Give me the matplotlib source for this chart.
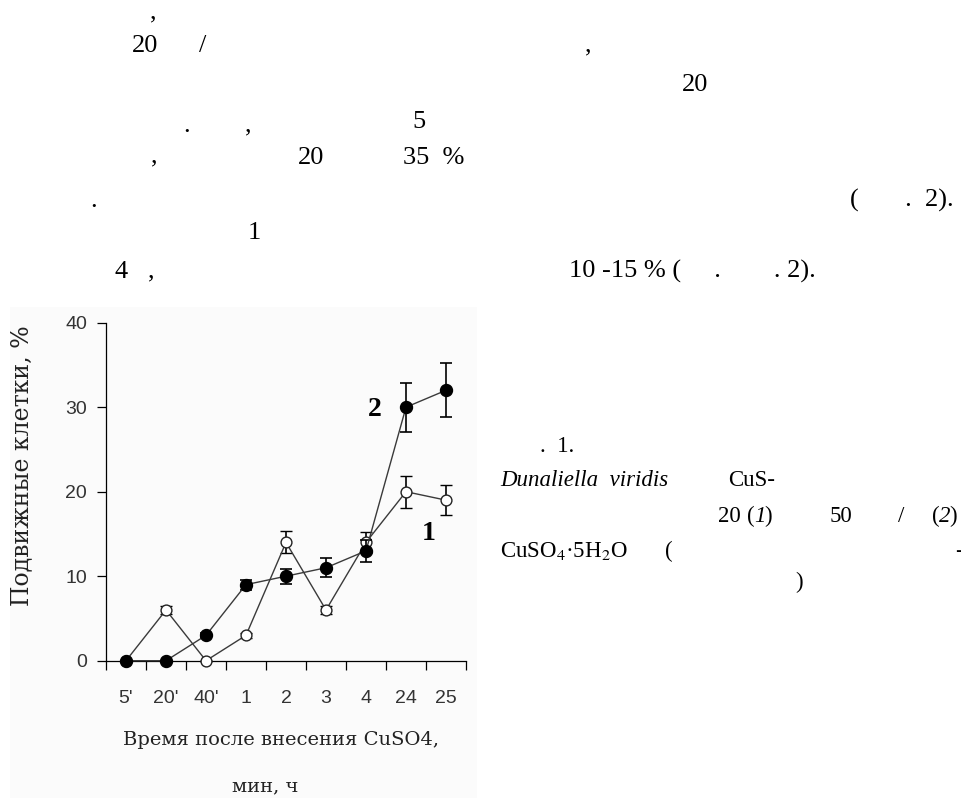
import matplotlib
matplotlib.use("Agg")
import matplotlib.pyplot as plt
from matplotlib.patches import Rectangle

# ---- data ----
time_labels = ["5'", "20'", "40'", "1", "2", "3", "4", "24", "25"]
series1 = [0, 6, 0, 3, 14, 6, 14, 20, 19]          # 20 (1), open circles
series1_err = [0, 0.5, 0, 0.3, 1.3, 0.5, 1.2, 1.9, 1.8]
series2 = [0, 0, 3, 9, 10, 11, 13, 30, 32]         # 50 (2), filled circles
series2_err = [0, 0, 0.3, 0.6, 0.9, 1.1, 1.3, 2.9, 3.2]
y_ticks = [0, 10, 20, 30, 40]

W, H = 961, 798
fig = plt.figure(figsize=(W / 100, H / 100), dpi=100)
fig.patch.set_facecolor("white")

def fx(px):
    return px / W

def fy(py):
    return 1 - py / H

# light background of the scanned chart image
bg = Rectangle((fx(10), fy(798)), fx(477) - fx(10), fy(307) - fy(798),
               transform=fig.transFigure, facecolor="#fbfbfb",
               edgecolor="none", zorder=-5)
fig.add_artist(bg)

# ---- page text fragments ----
serif = "Liberation Serif"
page_txt = [
    (150, 18, ","), (132, 52, "20"), (199, 52, "/"), (585, 51, ","), (682, 91, "20"),
    (183, 132, "."), (245, 131, ","), (412, 128, "5"),
    (151, 162, ","), (298, 164, "20"), (403, 164, "35  %"),
    (90, 207, "."), (850, 207, "(       .  2)."),
    (248, 239, "1"), (115, 277, "4   ,"),
    (569, 278, "10 -15 % (     .        . 2)."),
]
for x, y, s in page_txt:
    fig.text(fx(x), fy(y), s, family=serif, fontsize=19, va="baseline", ha="left")

cap = 16.5
fig.text(fx(540), fy(452), ".  1.", family=serif, fontsize=cap, va="baseline")
fig.text(fx(500), fy(486), "Dunaliella  viridis", family=serif, style="italic",
         fontsize=cap, va="baseline")
fig.text(fx(728), fy(486), "CuS-", family=serif, fontsize=cap, va="baseline")
fig.text(fx(718), fy(522), "20", family=serif, fontsize=cap, va="baseline")
fig.text(fx(747), fy(522), "(", family=serif, fontsize=cap, va="baseline")
fig.text(fx(754), fy(522), "1", family=serif, style="italic", fontsize=cap, va="baseline")
fig.text(fx(764), fy(522), ")", family=serif, fontsize=cap, va="baseline")
fig.text(fx(830), fy(522), "50", family=serif, fontsize=cap, va="baseline")
fig.text(fx(898), fy(522), "/", family=serif, fontsize=cap, va="baseline")
fig.text(fx(932), fy(522), "(", family=serif, fontsize=cap, va="baseline")
fig.text(fx(939), fy(522), "2", family=serif, style="italic", fontsize=cap, va="baseline")
fig.text(fx(949), fy(522), ")", family=serif, fontsize=cap, va="baseline")
fig.text(fx(500), fy(557), r"CuSO$_4$·5H$_2$O", family=serif, fontsize=cap, va="baseline",
         math_fontfamily="stix")
fig.text(fx(665), fy(557), "(", family=serif, fontsize=cap, va="baseline")
fig.text(fx(955), fy(557), "-", family=serif, fontsize=cap, va="baseline")
fig.text(fx(795), fy(588), ")", family=serif, fontsize=cap, va="baseline")

# ---- chart ----
left, right, top, bottom = 106, 466, 322.7, 660.7
ax = fig.add_axes([fx(left), fy(bottom), fx(right) - fx(left), fy(top) - fy(bottom)])
ax.set_facecolor("none")
x = list(range(len(time_labels)))

ax.errorbar(x, series1, yerr=series1_err, fmt="o-", color="#3a3a3a", lw=1.0,
            mfc="white", mec="#222222", mew=1.0, ms=7.8, ecolor="black",
            elinewidth=1.2, capsize=4.3, capthick=1.2, zorder=3, clip_on=False)
ax.errorbar(x, series2, yerr=series2_err, fmt="o-", color="#3a3a3a", lw=1.0,
            mfc="black", mec="black", ms=8.6, ecolor="black",
            elinewidth=1.2, capsize=4.3, capthick=1.2, zorder=4, clip_on=False)

ax.set_xlim(-0.5, len(time_labels) - 0.5)
ax.set_ylim(0, 40)
ax.set_yticks(y_ticks)
ax.set_yticklabels([str(v) for v in y_ticks])
ax.set_xticks([i - 0.5 for i in range(len(time_labels) + 1)])
ax.set_xticklabels([])
ax.set_xticks(x, minor=True)
ax.set_xticklabels(time_labels, minor=True)
ax.tick_params(axis="x", which="major", direction="out", length=6.5, width=0.9)
ax.tick_params(axis="x", which="minor", length=0, pad=21)
ax.tick_params(axis="y", direction="out", length=6.5, width=0.9, pad=7)
for lab in ax.get_xticklabels(minor=True) + ax.get_yticklabels():
    lab.set_family("Liberation Sans")
    lab.set_fontsize(14)
    lab.set_color("#333333")

for s in ["top", "right"]:
    ax.spines[s].set_visible(False)
for s in ["left", "bottom"]:
    ax.spines[s].set_linewidth(0.9)

ax.text(6.225, 29.7, "2", family=serif, fontweight="bold", fontsize=20,
        ha="center", va="center")
ax.text(7.575, 15.1, "1", family=serif, fontweight="bold", fontsize=20,
        ha="center", va="center")

fig.text(fx(22), fy(466), "Подвижные клетки, %", rotation=90, family="DejaVu Serif",
         fontsize=17, ha="center", va="center", color="#222222")
fig.text(fx(281), fy(740), "Время после внесения CuSO4,", family="DejaVu Serif",
         fontsize=14, ha="center", va="center", color="#222222")
fig.text(fx(265), fy(786), "мин, ч", family="DejaVu Serif",
         fontsize=14, ha="center", va="center", color="#222222")

fig.savefig("out.png", dpi=100, facecolor="white")
